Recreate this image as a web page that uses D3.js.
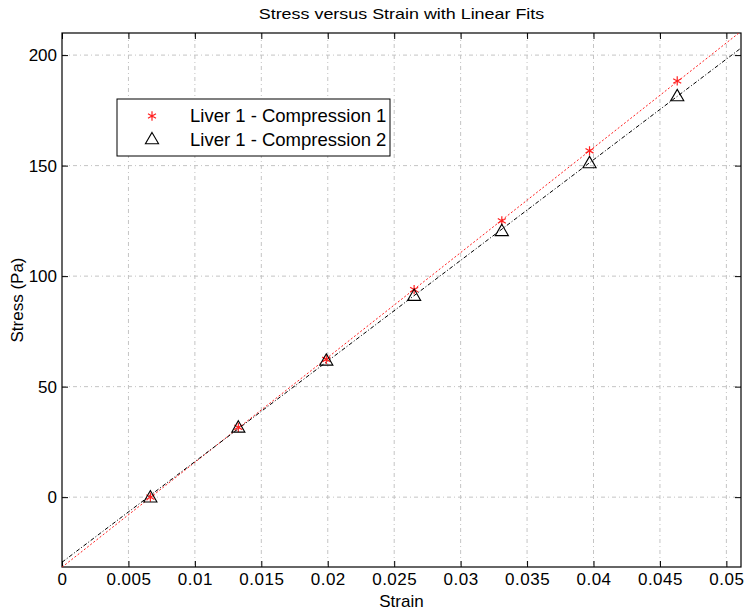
<!DOCTYPE html>
<html>
<head>
<meta charset="utf-8">
<script src="https://cdn.jsdelivr.net/npm/d3@7"></script>
<style>
  body { margin: 0; background: #fff; }
  text { font-family: "Liberation Sans", Arial, sans-serif; }
</style>
</head>
<body>
<svg id="chart"></svg>
<script>
const strain = [0.00665, 0.01327, 0.01989, 0.0265, 0.0331, 0.0397, 0.0463]
const stress1 = [0, 31.6, 62.3, 93.9, 125, 156.7, 188.3]
const stress2 = [0, 31.6, 61.9, 91.2, 120.5, 151.2, 181.5]
const seriesNames = ["Liver 1 - Compression 1", "Liver 1 - Compression 2"]
const xTicks = [0, 0.005, 0.01, 0.015, 0.02, 0.025, 0.03, 0.035, 0.04, 0.045, 0.05]
const yTicks = [0, 50, 100, 150, 200]

const W = 750, H = 616
const margin = { top: 33, right: 9, bottom: 49, left: 62 }

const svg = d3.select("#chart").attr("width", W).attr("height", H)

const x = d3.scaleLinear().domain([0, 0.0511]).range([margin.left, W - margin.right])
const y = d3.scaleLinear().domain([-31.6, 210]).range([H - margin.bottom, margin.top])

// least squares fit
function fit(xs, ys) {
  const mx = d3.mean(xs), my = d3.mean(ys)
  const b = d3.sum(xs, (v, i) => (v - mx) * (ys[i] - my)) / d3.sum(xs, v => (v - mx) ** 2)
  return { slope: b, icpt: my - b * mx }
}

const series = [
  { name: seriesNames[0], ys: stress1, color: "#ff2020", dash: "2,2" },
  { name: seriesNames[1], ys: stress2, color: "#000", dash: "4,2,1,2" },
]

svg.append("clipPath").attr("id", "clip").append("rect")
  .attr("x", margin.left).attr("y", margin.top)
  .attr("width", W - margin.left - margin.right)
  .attr("height", H - margin.top - margin.bottom)

// grid
const grid = svg.append("g").attr("stroke", "#c4c4c4").attr("stroke-dasharray", "4,3,1,3").attr("stroke-width", 1)
grid.selectAll(".gx").data(xTicks.slice(1)).join("line")
  .attr("x1", d => x(d)).attr("x2", d => x(d))
  .attr("y1", margin.top).attr("y2", H - margin.bottom)
grid.selectAll(".gy").data(yTicks).join("line")
  .attr("y1", d => y(d)).attr("y2", d => y(d))
  .attr("x1", margin.left).attr("x2", W - margin.right)

// axes with inward ticks
const xAxis = d3.axisBottom(x).tickValues(xTicks).tickFormat(d => d === 0 ? "0" : String(+d.toFixed(3))).tickSizeInner(-6).tickSizeOuter(0).tickPadding(6)
const yAxis = d3.axisLeft(y).tickValues(yTicks).tickSizeInner(-6).tickSizeOuter(0).tickPadding(5)

svg.append("g").attr("transform", `translate(0,${H - margin.bottom})`).call(xAxis)
  .call(g => g.select(".domain").remove())
  .call(g => g.selectAll("text").attr("font-size", 17).attr("letter-spacing", 0.5).attr("fill", "#000"))
svg.append("g").attr("transform", `translate(${margin.left},0)`).call(yAxis)
  .call(g => g.select(".domain").remove())
  .call(g => g.selectAll("text").attr("font-size", 17).attr("fill", "#000"))
svg.append("g").attr("transform", `translate(0,${margin.top})`)
  .call(d3.axisTop(x).tickValues(xTicks).tickFormat("").tickSizeInner(-6).tickSizeOuter(0))
  .call(g => g.select(".domain").remove())
svg.append("g").attr("transform", `translate(${W - margin.right},0)`)
  .call(d3.axisRight(y).tickValues(yTicks).tickFormat("").tickSizeInner(-6).tickSizeOuter(0))
  .call(g => g.select(".domain").remove())

// frame
svg.append("rect")
  .attr("x", margin.left).attr("y", margin.top)
  .attr("width", W - margin.left - margin.right)
  .attr("height", H - margin.top - margin.bottom)
  .attr("fill", "none").attr("stroke", "#000").attr("stroke-width", 1.2)

// fit lines
const plot = svg.append("g").attr("clip-path", "url(#clip)")
series.forEach(s => {
  const f = fit(strain, s.ys)
  const xd = x.domain()
  plot.append("line")
    .attr("x1", x(xd[0])).attr("y1", y(f.icpt + f.slope * xd[0]))
    .attr("x2", x(xd[1])).attr("y2", y(f.icpt + f.slope * xd[1]))
    .attr("stroke", s.color).attr("stroke-width", 1).attr("stroke-dasharray", s.dash)
})

const star = d3.symbol().type(d3.symbolAsterisk).size(60)
const tri = d3.symbol().type(d3.symbolTriangle).size(75)

function drawStar(g, cx, cy) {
  g.append("path").attr("d", star()).attr("transform", `translate(${cx},${cy})`)
    .attr("fill", "none").attr("stroke", "#ff2020").attr("stroke-width", 1.2)
}
function drawTri(g, cx, cy) {
  g.append("path").attr("d", tri()).attr("transform", `translate(${cx},${cy + 1})`)
    .attr("fill", "none").attr("stroke", "#000").attr("stroke-width", 1.1)
}
// markers: stars first then triangles on top
strain.forEach((v, i) => drawStar(plot, x(v), y(stress1[i])))
strain.forEach((v, i) => drawTri(plot, x(v), y(stress2[i])))

// legend
const lg = svg.append("g")
lg.append("rect").attr("x", 117).attr("y", 99).attr("width", 273).attr("height", 57)
  .attr("fill", "#fff").attr("stroke", "#000").attr("stroke-width", 1)
drawStar(lg, 152, 116)
drawTri(lg, 152, 139)
seriesNames.forEach((n, i) => {
  lg.append("text").attr("x", 190).attr("y", 122 + i * 24).attr("font-size", 18.5).text(n)
})

// titles
const cx = (margin.left + W - margin.right) / 2
svg.append("text").attr("transform", `translate(${cx},19) scale(1.28,1)`)
  .attr("text-anchor", "middle").attr("font-size", 14).text("Stress versus Strain with Linear Fits")
svg.append("text").attr("x", cx).attr("y", 607)
  .attr("text-anchor", "middle").attr("font-size", 17).text("Strain")
svg.append("text").attr("transform", `translate(23,${(margin.top + H - margin.bottom) / 2}) rotate(-90)`)
  .attr("text-anchor", "middle").attr("font-size", 17).text("Stress (Pa)")
</script>
</body>
</html>
